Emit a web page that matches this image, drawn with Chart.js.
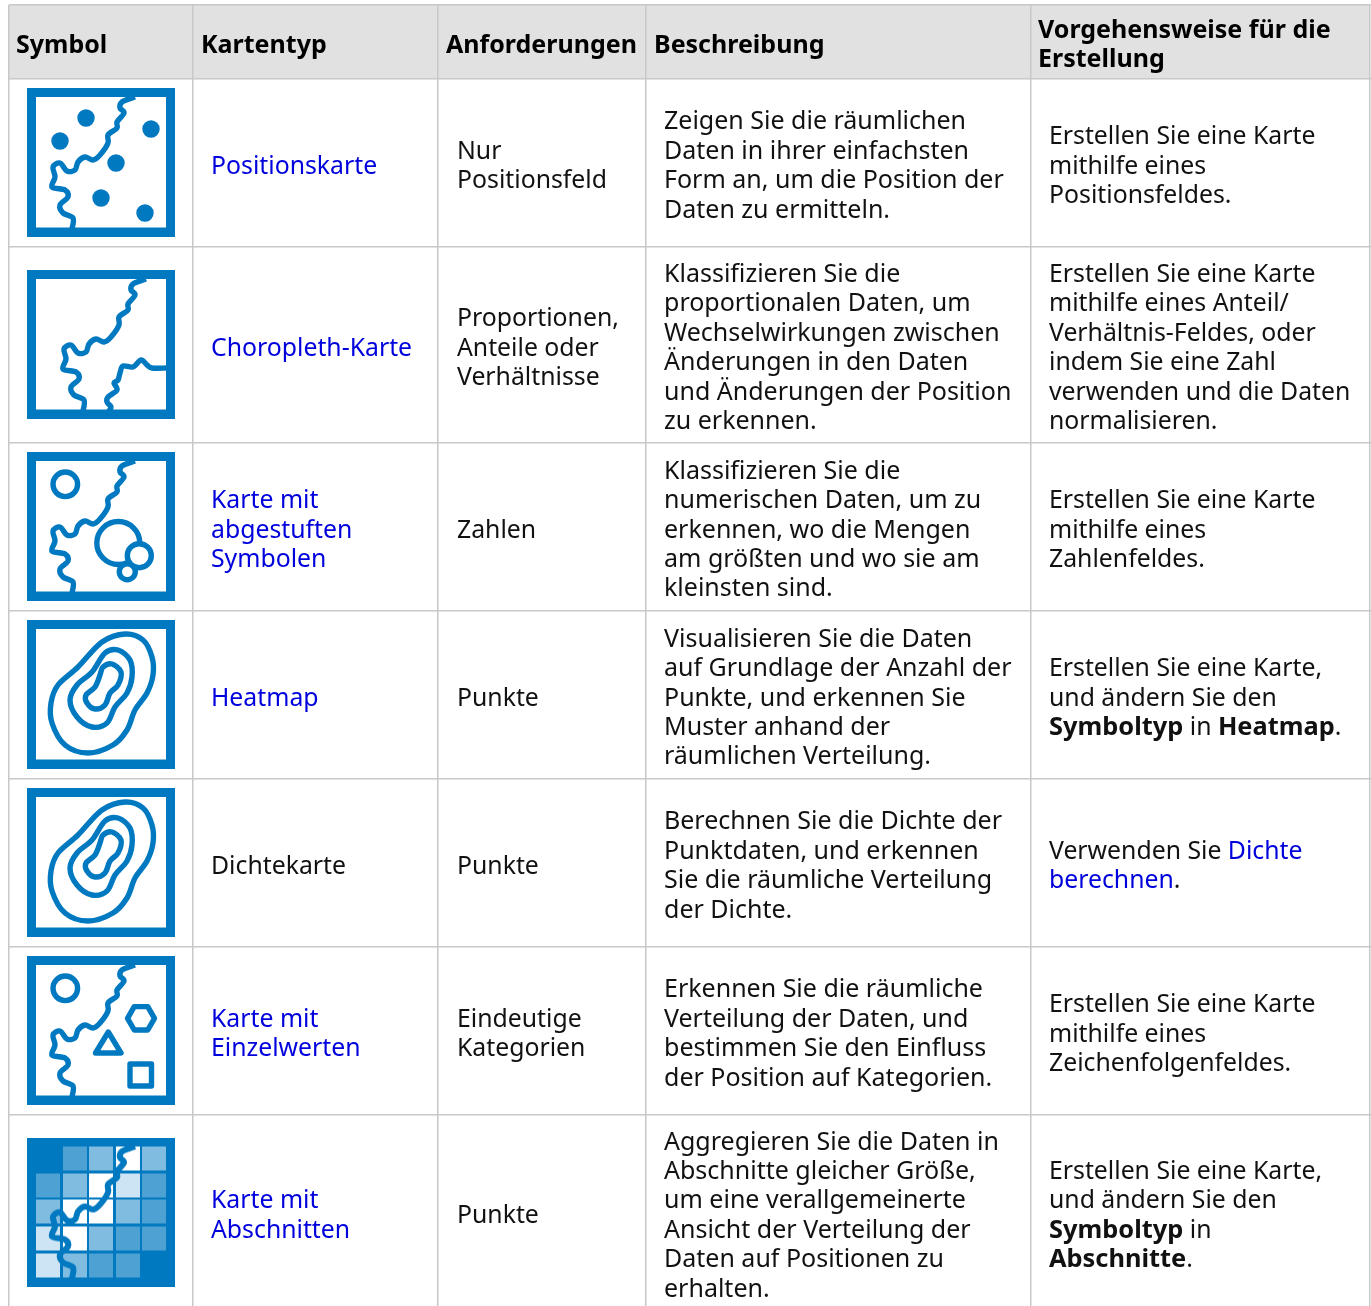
<!DOCTYPE html>
<html lang="de">
<head>
<meta charset="utf-8">
<title>Kartentypen</title>
<script src="https://cdn.jsdelivr.net/npm/chart.js@4"></script>
<style>
  html, body { margin: 0; padding: 0; background: #fff; overflow: hidden; }
  canvas { display: block; }
</style>
</head>
<body>
<canvas id="table" width="1371" height="1306"></canvas>
<script>
// [..] = link, *..* = bold
const headers = [
  ["Symbol"],
  ["Kartentyp"],
  ["Anforderungen"],
  ["Beschreibung"],
  ["Vorgehensweise für die", "Erstellung"],
];
const mapTypes = [
  ["[Positionskarte]"],
  ["[Choropleth-Karte]"],
  ["[Karte mit]", "[abgestuften]", "[Symbolen]"],
  ["[Heatmap]"],
  ["Dichtekarte"],
  ["[Karte mit]", "[Einzelwerten]"],
  ["[Karte mit]", "[Abschnitten]"],
];
const requirements = [
  ["Nur", "Positionsfeld"],
  ["Proportionen,", "Anteile oder", "Verhältnisse"],
  ["Zahlen"],
  ["Punkte"],
  ["Punkte"],
  ["Eindeutige", "Kategorien"],
  ["Punkte"],
];
const descriptions = [
  ["Zeigen Sie die räumlichen", "Daten in ihrer einfachsten", "Form an, um die Position der", "Daten zu ermitteln."],
  ["Klassifizieren Sie die", "proportionalen Daten, um", "Wechselwirkungen zwischen", "Änderungen in den Daten", "und Änderungen der Position", "zu erkennen."],
  ["Klassifizieren Sie die", "numerischen Daten, um zu", "erkennen, wo die Mengen", "am größten und wo sie am", "kleinsten sind."],
  ["Visualisieren Sie die Daten", "auf Grundlage der Anzahl der", "Punkte, und erkennen Sie", "Muster anhand der", "räumlichen Verteilung."],
  ["Berechnen Sie die Dichte der", "Punktdaten, und erkennen", "Sie die räumliche Verteilung", "der Dichte."],
  ["Erkennen Sie die räumliche", "Verteilung der Daten, und", "bestimmen Sie den Einfluss", "der Position auf Kategorien."],
  ["Aggregieren Sie die Daten in", "Abschnitte gleicher Größe,", "um eine verallgemeinerte", "Ansicht der Verteilung der", "Daten auf Positionen zu", "erhalten."],
];
const procedures = [
  ["Erstellen Sie eine Karte", "mithilfe eines", "Positionsfeldes."],
  ["Erstellen Sie eine Karte", "mithilfe eines Anteil/", "Verhältnis-Feldes, oder", "indem Sie eine Zahl", "verwenden und die Daten", "normalisieren."],
  ["Erstellen Sie eine Karte", "mithilfe eines", "Zahlenfeldes."],
  ["Erstellen Sie eine Karte,", "und ändern Sie den", "*Symboltyp* in *Heatmap*."],
  ["Verwenden Sie [Dichte]", "[berechnen]."],
  ["Erstellen Sie eine Karte", "mithilfe eines", "Zeichenfolgenfeldes."],
  ["Erstellen Sie eine Karte,", "und ändern Sie den", "*Symboltyp* in", "*Abschnitte*."],
];
const iconKinds = ["points", "choropleth", "graduated", "heat", "heat", "unique", "bins"];

// table grid, in page pixels
const columnEdges = [9, 193, 438, 646, 1031, 1370];
const rowEdges = [5, 79, 247, 443, 611, 779, 947, 1115, 1310];
const headerX = [16, 201, 446, 654, 1038];
const cellX = [null, 211, 457, 664, 1049];
const cellSize = [null, 24.8, 24.8, 25, 24.8];

const BLUE = "#0079c1";
const LINE_HEIGHT = 29.4;

const river = [[108,9],[95,14],[93,20],[97,25],[90,34],[90,40],[81,47],[81,55],[73,67],[66,72],[58,69],[51,74],[48,82],[40,83],[33,75],[26,79],[28,89],[25,99],[38,102],[41,109],[33,117],[36,125],[46,130],[45,141]];
const river2 = [[139,98],[125,98],[120,95],[114,90],[106,97],[96,96],[93,103],[91,110],[87,113],[90,120],[81,127],[80,132],[84,137],[82,141]];
const contours = [
  [[98,14],[116,20],[125,37],[126,55],[120,73],[108,90],[100,110],[86,125],[61,133],[38,125],[25,103],[24,83],[31,65],[51,47],[75,22]],
  [[91,30],[103,40],[105,57],[100,73],[88,87],[80,103],[65,107],[50,97],[43,80],[50,65],[65,52],[78,33]],
  [[85,44],[94,52],[91,65],[83,73],[78,85],[68,89],[60,83],[59,75],[68,67],[73,55],[76,47]],
];
const binCols = [9, 36, 62, 89, 115];
const binRows = [9, 36, 62, 89, 116];
const binAlpha = [
  [0, 0.3, 0.5, 1, 0.5],
  [0.3, 0.5, 1, 0.8, 0.3],
  [0.5, 1, 1, 0.5, 0.3],
  [0.8, 1, 0.5, 0.3, 0.3],
  [0.8, 0.5, 0.3, 0.3, 0],
];

// curve through the points (catmull-rom)
function smooth(c, pts, closed) {
  const n = pts.length;
  const at = i => closed ? pts[(i + n) % n] : pts[Math.max(0, Math.min(n - 1, i))];
  c.beginPath();
  c.moveTo(pts[0][0], pts[0][1]);
  const end = closed ? n : n - 1;
  for (let i = 0; i < end; i++) {
    const p0 = at(i - 1), p1 = at(i), p2 = at(i + 1), p3 = at(i + 2);
    c.bezierCurveTo(
      p1[0] + (p2[0] - p0[0]) / 6, p1[1] + (p2[1] - p0[1]) / 6,
      p2[0] - (p3[0] - p1[0]) / 6, p2[1] - (p3[1] - p1[1]) / 6,
      p2[0], p2[1]
    );
  }
  if (closed) c.closePath();
  c.stroke();
}

function circle(c, x, y, r, fill) {
  c.beginPath();
  c.arc(x, y, r, 0, Math.PI * 2);
  if (fill) c.fill();
  c.stroke();
}

function makeIcon(kind) {
  const cv = document.createElement("canvas");
  cv.width = 148;
  cv.height = 149;
  const c = cv.getContext("2d");
  c.fillStyle = BLUE;
  c.fillRect(0, 0, 148, 149);
  c.strokeStyle = BLUE;
  c.lineWidth = 5.4;
  c.lineJoin = "round";
  if (kind === "bins") {
    binAlpha.forEach((row, r) => row.forEach((a, i) => {
      c.fillStyle = "rgba(255,255,255," + a + ")";
      c.fillRect(binCols[i], binRows[r], 24, 24);
    }));
    c.lineWidth = 6;
    smooth(c, river);
    return cv;
  }
  c.fillStyle = "#fff";
  c.fillRect(9, 9, 130, 130.5);
  if (kind === "points") {
    smooth(c, river);
    c.fillStyle = BLUE;
    [[59,30],[33,53],[124,41],[89,75],[74,110],[118,125]].forEach(p => circle(c, p[0], p[1], 6, true));
  } else if (kind === "choropleth") {
    c.save();
    c.translate(11, 0);
    smooth(c, river);
    c.restore();
    smooth(c, river2);
  } else if (kind === "graduated") {
    smooth(c, river);
    circle(c, 38.3, 32.3, 12.3, true);
    circle(c, 91.3, 91, 21.5, true);
    circle(c, 100.3, 119.7, 8, true);
    circle(c, 112.3, 103.7, 12, true);
  } else if (kind === "heat") {
    contours.forEach(p => smooth(c, p, true));
  } else if (kind === "unique") {
    smooth(c, river);
    circle(c, 38.3, 32.3, 12.3, true);
    c.beginPath();
    for (let i = 0; i < 6; i++) {
      const a = i * Math.PI / 3;
      c.lineTo(114 + 13.5 * Math.cos(a), 62.3 + 13.5 * Math.sin(a));
    }
    c.closePath();
    c.stroke();
    c.beginPath();
    c.moveTo(81.3, 76);
    c.lineTo(94, 97);
    c.lineTo(68.5, 97);
    c.closePath();
    c.stroke();
    c.strokeRect(103, 108, 21.5, 22);
  }
  return cv;
}

function parseRuns(line) {
  const runs = [];
  const re = /\[([^\]]*)\]|\*([^*]*)\*|([^\[*]+)/g;
  let m;
  while ((m = re.exec(line))) {
    if (m[1] !== undefined) runs.push({ text: m[1], link: true });
    else if (m[2] !== undefined) runs.push({ text: m[2], bold: true });
    else runs.push({ text: m[3] });
  }
  return runs;
}

function drawLines(ctx, lines, x, yCentre, opts) {
  lines.forEach((line, i) => {
    const y = yCentre + 10.5 + (i - (lines.length - 1) / 2) * LINE_HEIGHT;
    let cx = x;
    parseRuns(line).forEach(run => {
      const bold = opts.bold || run.bold;
      // inline bold runs a little wider in the reference
      const size = run.bold ? opts.size + 0.6 : opts.size;
      ctx.font = (bold ? "bold " : "") + size + 'px "Noto Sans"';
      ctx.fillStyle = run.link ? "#0000dd" : opts.color;
      ctx.fillText(run.text, cx, y);
      cx += ctx.measureText(run.text).width;
    });
  });
}

const tablePlugin = {
  id: "tablePlugin",
  beforeDraw(chart) {
    const { ctx, scales } = chart;
    const left = scales.x.getPixelForValue(columnEdges[0]);
    const right = scales.x.getPixelForValue(columnEdges[columnEdges.length - 1]);
    const top = scales.y.getPixelForValue(rowEdges[0]);
    const bottom = scales.y.getPixelForValue(rowEdges[1]);
    ctx.fillStyle = "#e1e1e1";
    ctx.fillRect(left, top, right - left, bottom - top);
  },
  afterDraw(chart) {
    const { ctx, scales } = chart;
    ctx.save();
    ctx.textBaseline = "alphabetic";
    ctx.textAlign = "left";
    const headY = scales.y.getPixelForValue((rowEdges[0] + rowEdges[1]) / 2);
    headers.forEach((lines, i) => {
      drawLines(ctx, lines, scales.x.getPixelForValue(headerX[i]), headY, { size: 25, bold: true, color: "#000" });
    });
    [null, mapTypes, requirements, descriptions, procedures].forEach((col, c) => {
      if (!col) return;
      col.forEach((lines, r) => {
        const y = scales.y.getPixelForValue((rowEdges[r + 1] + rowEdges[r + 2]) / 2);
        drawLines(ctx, lines, scales.x.getPixelForValue(cellX[c]), y, { size: cellSize[c], color: "#111" });
      });
    });
    ctx.restore();
  },
};

const iconPoints = iconKinds.map((kind, r) => ({
  x: (columnEdges[0] + columnEdges[1]) / 2 + 0,
  y: (rowEdges[r + 1] + rowEdges[r + 2]) / 2 - 0.5,
}));

new Chart(document.getElementById("table"), {
  type: "scatter",
  data: {
    datasets: [{
      data: iconPoints,
      pointStyle: iconKinds.map(makeIcon),
      pointRadius: 1,
      showLine: false,
    }],
  },
  options: {
    responsive: false,
    animation: false,
    events: [],
    layout: { autoPadding: false, padding: { left: 9, top: 5, right: 0, bottom: 0 } },
    plugins: { legend: { display: false }, tooltip: { enabled: false }, title: { display: false } },
    scales: {
      x: {
        type: "linear", min: 9, max: 1371,
        afterBuildTicks: s => { s.ticks = columnEdges.map(value => ({ value })); },
        ticks: { display: false },
        grid: { color: "#c8c8c8", lineWidth: 1.5, drawTicks: false },
        border: { display: false },
      },
      y: {
        type: "linear", min: 5, max: 1306, reverse: true,
        afterBuildTicks: s => { s.ticks = rowEdges.slice(0, -1).map(value => ({ value })); },
        ticks: { display: false },
        grid: { color: "#c8c8c8", lineWidth: 1.5, drawTicks: false },
        border: { display: false },
      },
    },
  },
  plugins: [tablePlugin],
});
</script>
</body>
</html>
